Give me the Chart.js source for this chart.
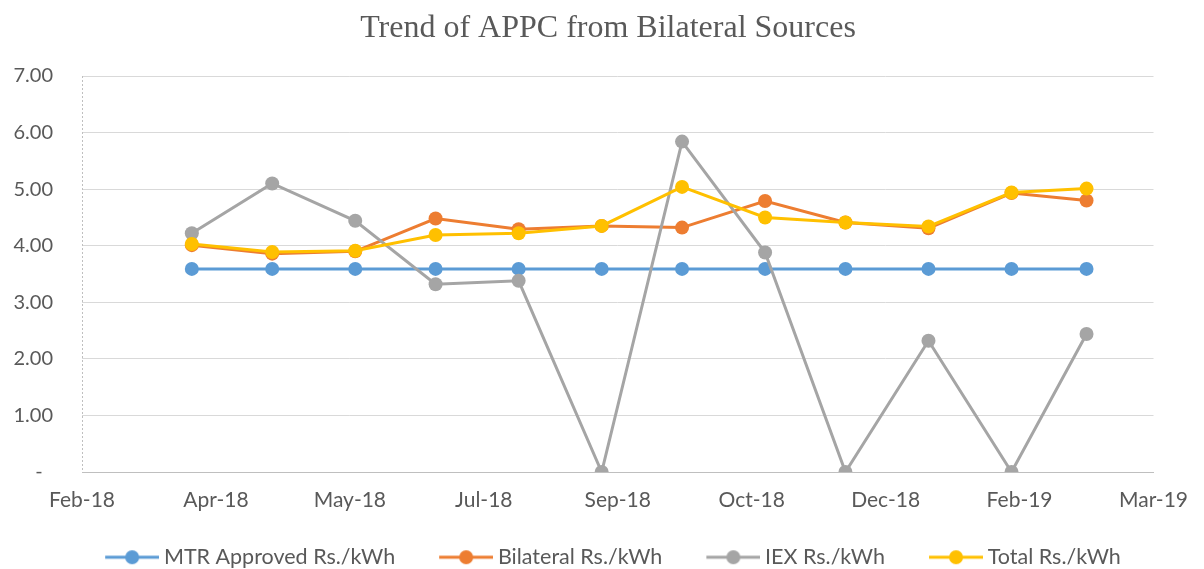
<!DOCTYPE html>
<html>
<head>
<meta charset="utf-8">
<script src="https://cdn.jsdelivr.net/npm/chart.js@4/dist/chart.umd.min.js"></script>
<style>
  html, body { margin: 0; padding: 0; background: #ffffff; overflow: hidden; }
  #wrap { width: 1204px; height: 578px; }
</style>
</head>
<body>
<div id="wrap"><canvas id="c" width="1204" height="578"></canvas></div>
<script>
// ---- data ----
const months = ['2018-04-01','2018-05-01','2018-06-01','2018-07-01','2018-08-01','2018-09-01',
                '2018-10-01','2018-11-01','2018-12-01','2019-01-01','2019-02-01','2019-03-01'];
const mtrApproved = [3.59,3.59,3.59,3.59,3.59,3.59,3.59,3.59,3.59,3.59,3.59,3.59];
const bilateral   = [4.01,3.86,3.90,4.48,4.29,4.35,4.32,4.79,4.41,4.31,4.93,4.80];
const iex         = [4.22,5.10,4.44,3.32,3.38,0.00,5.84,3.88,0.00,2.32,0.00,2.44];
const total       = [4.03,3.89,3.91,4.19,4.22,4.35,5.04,4.50,4.41,4.34,4.94,5.01];
const seriesNames = ['MTR Approved Rs./kWh','Bilateral Rs./kWh','IEX Rs./kWh','Total Rs./kWh'];
const seriesColors = ['#5B9BD5','#ED7D31','#A5A5A5','#FFC000'];
const yTickValues = [0,1,2,3,4,5,6,7];
const xAxisMinDate = '2018-02-19';
const xAxisMaxDate = '2019-03-26';
const xAxisStepDays = 50;
const titleText = 'Trend of APPC from Bilateral Sources';

// ---- helpers ----
const MONTH_ABBR = ['Jan','Feb','Mar','Apr','May','Jun','Jul','Aug','Sep','Oct','Nov','Dec'];
const EPOCH = Date.UTC(1899, 11, 30);
function toSerial(s) {
  const [y, m, d] = s.split('-').map(Number);
  return Math.round((Date.UTC(y, m - 1, d) - EPOCH) / 86400000);
}
function serialLabel(v) {
  const dt = new Date(EPOCH + v * 86400000);
  return MONTH_ABBR[dt.getUTCMonth()] + '-' + String(dt.getUTCFullYear()).slice(2);
}
const xs = months.map(toSerial);
const pts = arr => arr.map((v, i) => ({ x: xs[i], y: v }));

// legend icon: short line with a round marker (Excel style)
function legendIcon(color) {
  const c = document.createElement('canvas');
  c.width = 70; c.height = 18;
  const g = c.getContext('2d');
  g.strokeStyle = color; g.lineWidth = 3; g.lineCap = 'butt';
  g.beginPath(); g.moveTo(16, 9); g.lineTo(70, 9); g.stroke();
  g.fillStyle = color;
  g.beginPath(); g.arc(43, 9, 7, 0, Math.PI * 2); g.fill();
  return c;
}
const icons = seriesColors.map(legendIcon);

const valueSets = [mtrApproved, bilateral, iex, total];
const datasets = valueSets.map((vals, i) => ({
  label: seriesNames[i],
  data: pts(vals),
  borderColor: seriesColors[i],
  backgroundColor: seriesColors[i],
  borderWidth: 3,
  pointRadius: 7,
  pointHoverRadius: 7,
  pointBorderWidth: 0,
  pointBackgroundColor: seriesColors[i],
  tension: 0,
  order: valueSets.length - i
}));

// dotted vertical value-axis line (Excel style)
const dottedAxisLine = {
  id: 'dottedAxisLine',
  beforeDatasetsDraw(chart) {
    const { ctx, chartArea } = chart;
    ctx.save();
    ctx.strokeStyle = '#BFBFBF';
    ctx.lineWidth = 1;
    ctx.setLineDash([2, 2]);
    ctx.beginPath();
    const x = Math.round(chartArea.left) + 0.5;
    ctx.moveTo(x, chartArea.top);
    ctx.lineTo(x, chartArea.bottom);
    ctx.stroke();
    ctx.restore();
  }
};

const TXT = '#595959';
const FONT = 'Lato, "Noto Sans", sans-serif';
new Chart(document.getElementById('c'), {
  type: 'line',
  data: { datasets },
  plugins: [dottedAxisLine],
  options: {
    responsive: false,
    animation: false,
    layout: { padding: { left: 12, right: 0, top: 0, bottom: 0 } },
    plugins: {
      tooltip: { enabled: false },
      title: {
        display: true,
        text: titleText,
        color: TXT,
        font: { family: '"Liberation Serif", "Times New Roman", serif', size: 32, weight: 'normal' },
        padding: { top: 9.5, bottom: 28.1 }
      },
      legend: {
        display: true,
        position: 'bottom',
        labels: {
          usePointStyle: true,
          pointStyleWidth: 58,
          padding: 34,
          color: TXT,
          font: { family: FONT, size: 21.5 },
          generateLabels: (chart) => chart.data.datasets.map((ds, i) => ({
            text: ds.label,
            fillStyle: ds.borderColor,
            strokeStyle: ds.borderColor,
            lineWidth: 0,
            pointStyle: icons[i],
            fontColor: TXT,
            hidden: false,
            datasetIndex: i
          }))
        }
      }
    },
    scales: {
      x: {
        type: 'linear',
        min: toSerial(xAxisMinDate),
        max: toSerial(xAxisMaxDate),
        grid: { display: false, drawTicks: false },
        border: { display: true, color: '#BFBFBF', width: 1 },
        ticks: {
          stepSize: xAxisStepDays,
          padding: 16,
          color: TXT,
          maxRotation: 0,
          autoSkip: false,
          font: { family: FONT, size: 21 },
          callback: (v) => serialLabel(v)
        },
        afterFit: (s) => { s.height = 40.5; }
      },
      y: {
        min: yTickValues[0],
        max: yTickValues[yTickValues.length - 1],
        grid: { color: '#D9D9D9', lineWidth: 1, drawTicks: false },
        border: { display: false },
        afterBuildTicks: (s) => { s.ticks = yTickValues.map(v => ({ value: v })); },
        ticks: {
          padding: 29,
          color: TXT,
          font: { family: FONT, size: 20 },
          callback: (v) => v === 0 ? '-  ' : v.toFixed(2)
        },
        afterFit: (s) => { s.width = 70; }
      },
      yPad: {
        position: 'right',
        display: true,
        grid: { display: false, drawTicks: false },
        border: { display: false },
        ticks: { display: false },
        afterFit: (s) => { s.width = 44; }
      }
    }
  }
});
</script>
</body>
</html>
